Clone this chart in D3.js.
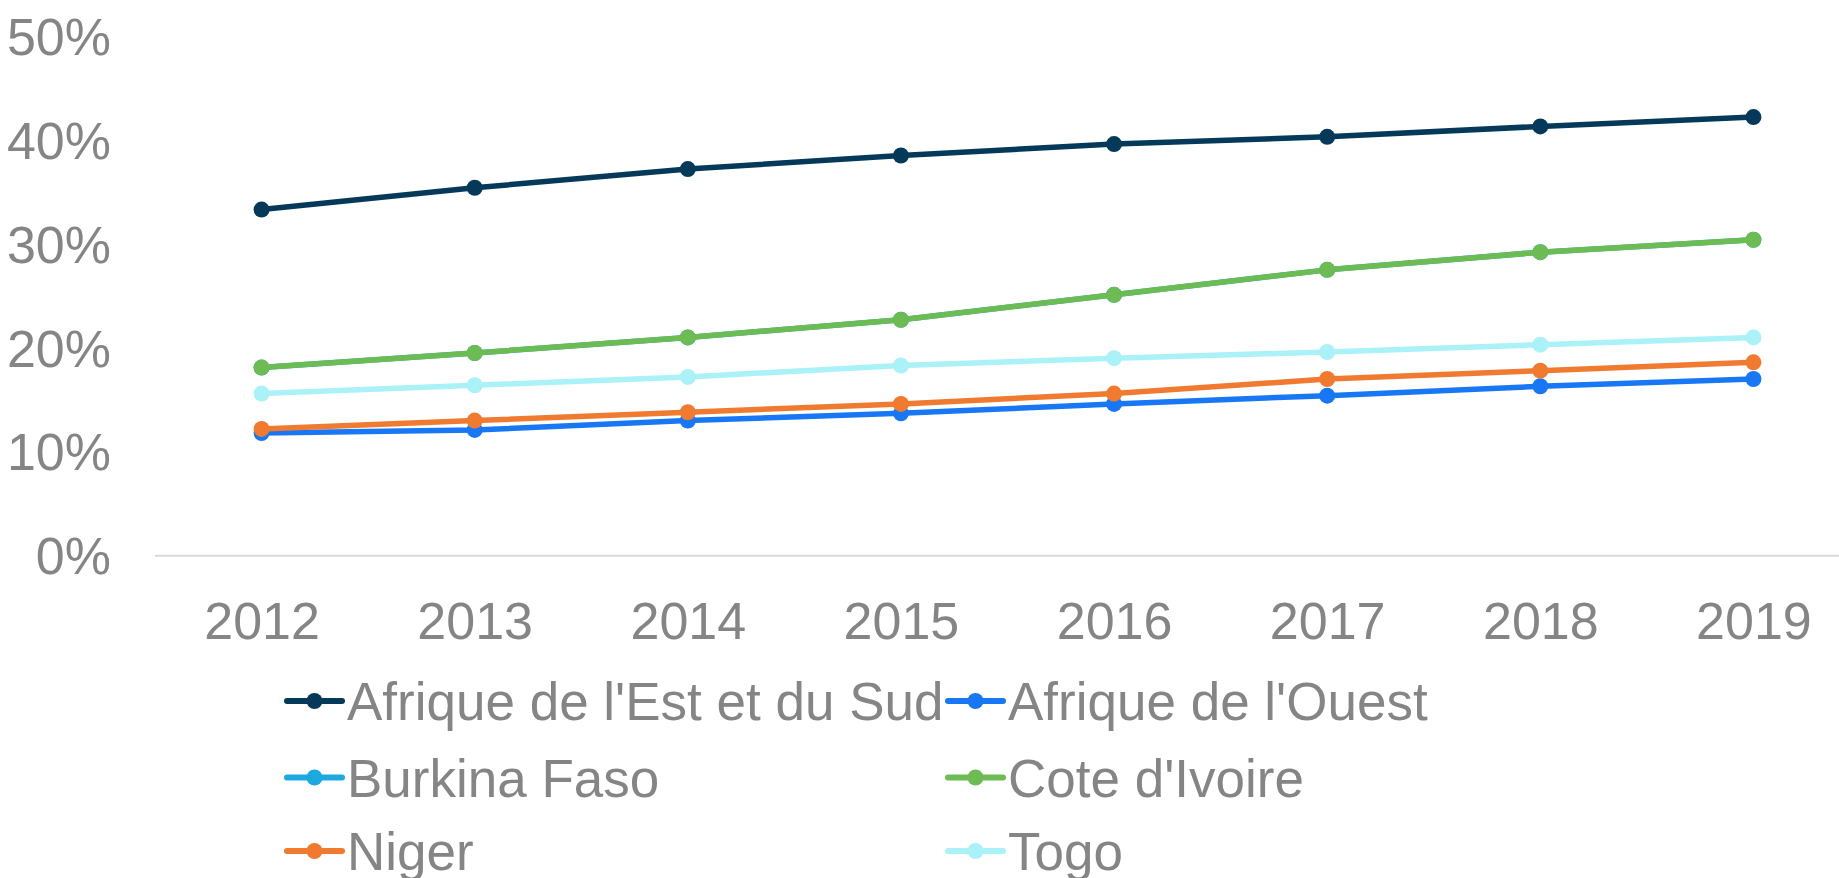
<!DOCTYPE html>
<html>
<head>
<meta charset="utf-8">
<script src="https://cdn.jsdelivr.net/npm/d3@7"></script>
<style>
  html, body { margin: 0; padding: 0; background: #fff; }
  svg text { font-family: "Liberation Sans", Arial, sans-serif; fill: #858585; }
</style>
</head>
<body>
<svg id="chart" width="1839" height="878"></svg>
<script>
const width = 1839;
const height = 878;

// Data
const years = ["2012", "2013", "2014", "2015", "2016", "2017", "2018", "2019"];
const yTicks = [0, 0.1, 0.2, 0.3, 0.4, 0.5];

const seriesNames = [
  "Afrique de l'Est et du Sud",
  "Afrique de l'Ouest",
  "Burkina Faso",
  "Cote d'Ivoire",
  "Niger",
  "Togo",
];
const seriesColors = ["#05395a", "#1877f4", "#1ea8e0", "#6cbb53", "#f07b30", "#aaf1f8"];

const afriqueEstSud = [0.333, 0.354, 0.372, 0.385, 0.396, 0.403, 0.413, 0.422];
const afriqueOuest = [0.118, 0.121, 0.130, 0.137, 0.146, 0.154, 0.163, 0.170];
const burkinaFaso = [0.181, 0.195, 0.210, 0.227, 0.251, 0.275, 0.292, 0.304];
const coteIvoire = [0.181, 0.195, 0.210, 0.227, 0.251, 0.275, 0.292, 0.304];
const niger = [0.122, 0.130, 0.138, 0.146, 0.156, 0.170, 0.178, 0.186];
const togo = [0.156, 0.164, 0.172, 0.183, 0.190, 0.196, 0.203, 0.210];

const seriesValues = [afriqueEstSud, afriqueOuest, burkinaFaso, coteIvoire, niger, togo];

const series = seriesNames.map((name, i) => ({
  name: name,
  color: seriesColors[i],
  values: seriesValues[i].map((v, j) => ({ year: years[j], value: v })),
}));

const svg = d3.select("#chart");

// Scales
const xScale = d3.scalePoint().domain(years).range([155, 1860]).padding(0.5);
const yScale = d3.scaleLinear().domain([0, 0.5]).range([555.7, 36]);

// Baseline
svg.append("line")
  .attr("x1", xScale.range()[0])
  .attr("x2", xScale.range()[1])
  .attr("y1", yScale(0))
  .attr("y2", yScale(0))
  .attr("stroke", "#d9d9d9")
  .attr("stroke-width", 2);

// Y axis labels
const yAxis = d3.axisLeft(yScale)
  .tickValues(yTicks)
  .tickFormat(d3.format(".0%"))
  .tickSize(0)
  .tickPadding(0);

svg.append("g")
  .attr("transform", "translate(111,0)")
  .call(yAxis)
  .call((g) => g.select(".domain").remove())
  .call((g) => g.selectAll("text")
    .attr("font-size", 52)
    .attr("font-family", null)
    .attr("dy", "0.35em"));

// X axis labels
const xAxis = d3.axisBottom(xScale).tickSize(0).tickPadding(0);

svg.append("g")
  .attr("transform", "translate(0,600)")
  .call(xAxis)
  .call((g) => g.select(".domain").remove())
  .call((g) => g.selectAll("text")
    .attr("font-size", 52)
    .attr("font-family", null)
    .attr("dy", "0.75em"));

// Lines
const line = d3.line()
  .x((d) => xScale(d.year))
  .y((d) => yScale(d.value));

const seriesG = svg.selectAll(".series")
  .data(series)
  .enter()
  .append("g")
  .attr("class", "series");

seriesG.append("path")
  .attr("d", (d) => line(d.values))
  .attr("fill", "none")
  .attr("stroke", (d) => d.color)
  .attr("stroke-width", 5.5)
  .attr("stroke-linejoin", "round");

seriesG.selectAll("circle")
  .data((d) => d.values.map((v) => ({ ...v, color: d.color })))
  .enter()
  .append("circle")
  .attr("cx", (d) => xScale(d.year))
  .attr("cy", (d) => yScale(d.value))
  .attr("r", 8)
  .attr("fill", (d) => d.color);

// Legend: two columns, three rows
const legendCols = [287, 948];
const legendRows = [701, 777.5, 851];

const legend = svg.selectAll(".legend")
  .data(series)
  .enter()
  .append("g")
  .attr("class", "legend")
  .attr("transform", (d, i) =>
    "translate(" + legendCols[i % 2] + "," + legendRows[Math.floor(i / 2)] + ")");

legend.append("line")
  .attr("x1", 0)
  .attr("x2", 55)
  .attr("stroke", (d) => d.color)
  .attr("stroke-width", 6)
  .attr("stroke-linecap", "round");

legend.append("circle")
  .attr("cx", 27.5)
  .attr("r", 8)
  .attr("fill", (d) => d.color);

legend.append("text")
  .attr("x", 60)
  .attr("dy", "0.36em")
  .attr("font-size", 53)
  .text((d) => d.name);
</script>
</body>
</html>
